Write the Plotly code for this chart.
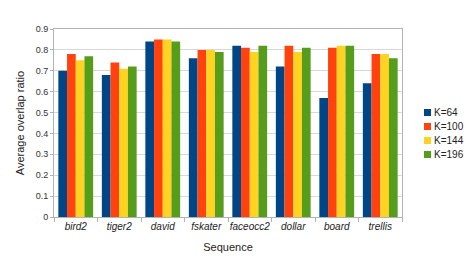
import plotly.graph_objects as go

categories = ["bird2", "tiger2", "david", "fskater", "faceocc2", "dollar", "board", "trellis"]
k64 = [0.70, 0.68, 0.84, 0.76, 0.82, 0.72, 0.57, 0.64]
k100 = [0.78, 0.74, 0.85, 0.80, 0.81, 0.82, 0.81, 0.78]
k144 = [0.75, 0.71, 0.85, 0.80, 0.79, 0.79, 0.82, 0.78]
k196 = [0.77, 0.72, 0.84, 0.79, 0.82, 0.81, 0.82, 0.76]
series_names = ["K=64", "K=100", "K=144", "K=196"]
colors = ["#004586", "#ff420e", "#ffd320", "#579d1c"]

OFF = 8  # default page body margin
W, H = 474 - OFF, 267 - OFF
ML, MR, MT, MB = 54 - OFF, 72, 29 - OFF, 50
PW, PH = W - ML - MR, H - MT - MB

fig = go.Figure()
for name, vals, c in zip(series_names, [k64, k100, k144, k196], colors):
    fig.add_trace(go.Bar(x=categories, y=vals, name=name, showlegend=False,
                         marker=dict(color=c, line=dict(width=0))))

# compact legend (screen pixel targets converted to paper coordinates)
leg_x0 = 424 - OFF
leg_y0 = 112.5 - OFF
leg_dy = 14
sq = 7
for i, (name, c) in enumerate(zip(series_names, colors)):
    cy = leg_y0 + i * leg_dy
    fig.add_shape(type="rect", xref="paper", yref="paper",
                  x0=(leg_x0 - ML) / PW, x1=(leg_x0 + sq - ML) / PW,
                  y0=(H - MB - (cy + sq / 2)) / PH, y1=(H - MB - (cy - sq / 2)) / PH,
                  fillcolor=c, line=dict(width=0))
    fig.add_annotation(text=name, xref="paper", yref="paper",
                       x=(leg_x0 + sq + 1 - ML) / PW, y=(H - MB - cy) / PH,
                       xanchor="left", yanchor="middle", showarrow=False,
                       font=dict(size=10, color="#222222"))

font = "Liberation Sans, Arial, sans-serif"
fig.update_layout(
    width=W, height=H,
    margin=dict(l=ML, r=MR, t=MT, b=MB, autoexpand=False),
    paper_bgcolor="white", plot_bgcolor="white",
    barmode="group", bargap=0.2, bargroupgap=0,
    font=dict(family=font, size=9, color="#333333"),
    showlegend=False,
    xaxis=dict(
        title=dict(text="Sequence", font=dict(size=11, color="#222222"), standoff=12),
        tickfont=dict(size=10, color="#222222", style="italic"), tickangle=0,
        showline=True, linecolor="#b3b3b3", mirror=True,
        ticks="outside", tickson="boundaries", ticklen=4, tickcolor="#b3b3b3",
        showgrid=False,
    ),
    yaxis=dict(
        title=dict(text="Average overlap ratio", font=dict(size=11, color="#222222"), standoff=8),
        range=[0, 0.9], dtick=0.1, tickformat=".1~f",
        tickfont=dict(size=9, color="#333333"),
        showline=True, linecolor="#b3b3b3", mirror=True,
        ticks="outside", ticklen=3, tickcolor="#b3b3b3",
        showgrid=True, gridcolor="#d9d9d9", gridwidth=1,
        zeroline=False,
    ),
)

fig.write_html("out.html")
